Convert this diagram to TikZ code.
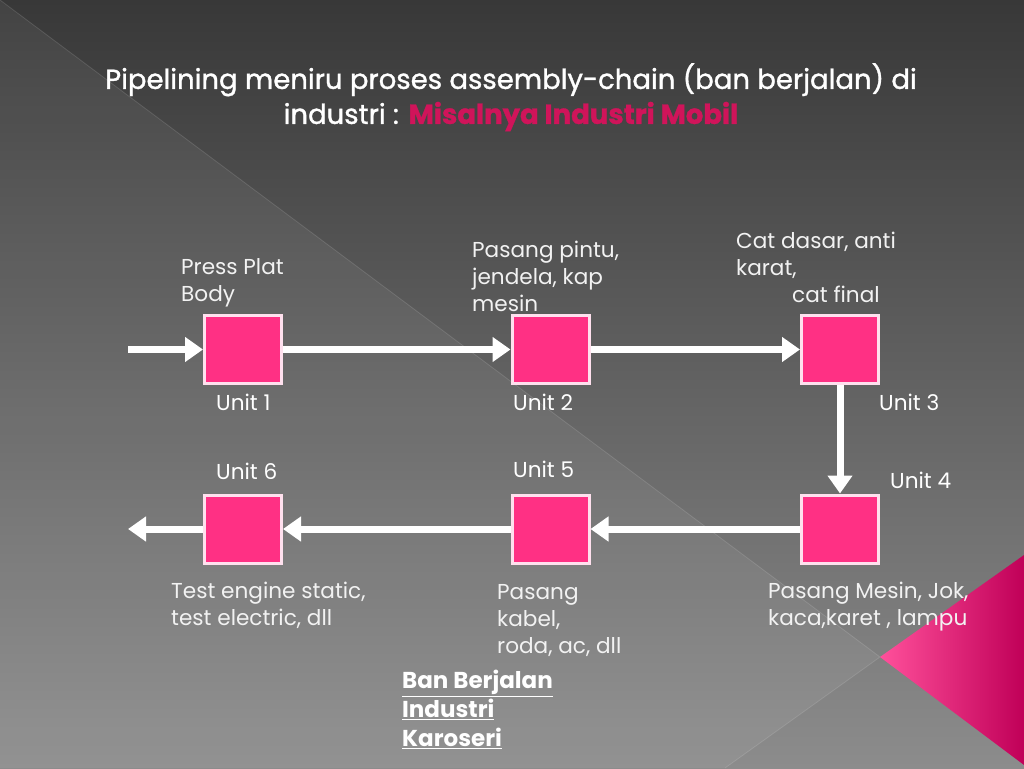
\documentclass[tikz,border=0pt]{standalone}
\usepackage{fontspec}
\setmainfont{Poppins}
\newfontfamily\titlefont[FakeBold=1.2]{Poppins}
\usetikzlibrary{arrows.meta}
\definecolor{bgtop}{RGB}{56,56,56}
\definecolor{bgbot}{RGB}{140,140,140}
\definecolor{boxfill}{RGB}{255,48,132}
\definecolor{boxline}{RGB}{255,224,238}
\definecolor{txt}{RGB}{242,242,242}
\definecolor{titlepink}{RGB}{208,20,90}
\definecolor{pinkL}{RGB}{255,80,155}
\definecolor{pinkM}{RGB}{238,0,120}
\definecolor{pinkD}{RGB}{192,0,88}
\tikzset{
  unitbox/.style={draw=boxline, line width=3pt, fill=boxfill, minimum width=77pt, minimum height=68pt, inner sep=0pt},
  flow/.style={draw=white, line width=7pt, -{Triangle[length=18pt,width=24pt]}},
  lbl/.style={text=txt, font=\fontsize{21.6}{27}\selectfont, align=left, inner sep=0pt, anchor=north west},
  unitlbl/.style={text=white, font=\fontsize{21.6}{27}\selectfont, inner sep=0pt, anchor=base west},
}
\begin{document}
\begin{tikzpicture}[x=1pt,y=-1pt]
\useasboundingbox (0,0) rectangle (1024,768);
% background
\shade[top color=bgtop, bottom color=bgbot] (0,0) rectangle (1024,768);
\fill[white, opacity=0.06] (0,0) -- (880,657) -- (725,768) -- (0,768) -- cycle;
\draw[white, opacity=0.12, line width=0.8pt] (0,0) -- (880,657) -- (725,768);
\shade[left color=pinkL, middle color=pinkM, right color=pinkD] (880,657) -- (1024,555) -- (1024,765) -- cycle;
% title
\node[text=white, font=\titlefont\fontsize{27.5}{35}\selectfont, align=center, inner sep=0pt, anchor=north] (title) at (511,63)
  {Pipelining meniru proses assembly-chain (ban berjalan) di\\industri : \textcolor{titlepink}{\bfseries Misalnya Industri Mobil}};
% units
\node[unitbox] (u1) at (243,349.5) {};
\node[unitbox] (u2) at (550.5,349.5) {};
\node[unitbox] (u3) at (840,349.5) {};
\node[unitbox] (u4) at (840,529) {};
\node[unitbox] (u5) at (550.5,529) {};
\node[unitbox] (u6) at (243,529) {};
\coordinate (in) at (128,349.5);
\coordinate (out) at (128,529);
\draw[flow] (in) -- (u1.west);
\draw[flow] (u1.east) -- (u2.west);
\draw[flow] (u2.east) -- (u3.west);
\draw[flow] (u3.south) -- (u4.north);
\draw[flow] (u4.west) -- (u5.east);
\draw[flow] (u5.west) -- (u6.east);
\draw[flow] (u6.west) -- (out);
% unit labels
\node[unitlbl] (l1) at (216,410) {Unit 1};
\node[unitlbl] (l2) at (513,410) {Unit 2};
\node[unitlbl] (l3) at (879,410) {Unit 3};
\node[unitlbl] (l4) at (890,488) {Unit 4};
\node[unitlbl] (l5) at (513,477) {Unit 5};
\node[unitlbl] (l6) at (216,479) {Unit 6};
% descriptions
\node[lbl] (d1) at (181,258) {Press Plat\\Body};
\node[lbl] (d2) at (472,241) {Pasang pintu,\\jendela, kap\\mesin};
\node[lbl] (d3) at (736,232) {Cat dasar, anti\\karat,\\\hspace*{56pt}cat final};
\node[lbl] (d4) at (768,582) {Pasang Mesin, Jok,\\kaca,karet , lampu};
\node[lbl] (d5) at (497,584) {Pasang\\kabel,\\roda, ac, dll};
\node[lbl] (d6) at (171,582) {Test engine static,\\test electric, dll};
\node[lbl, text=white, font=\fontsize{23}{29}\selectfont\bfseries] (ban) at (402,670) {\underline{Ban Berjalan}\\\underline{Industri}\\\underline{Karoseri}};
\end{tikzpicture}
\end{document}
